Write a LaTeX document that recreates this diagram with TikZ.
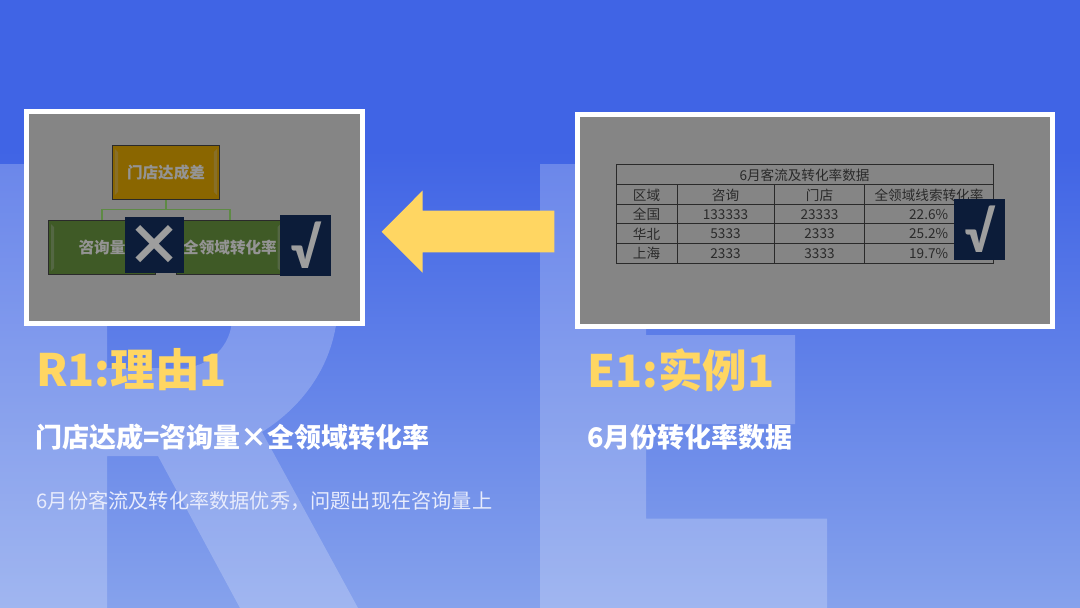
\documentclass[tikz,border=0pt]{standalone}
\usepackage{fontspec}
\setmainfont{Noto Sans CJK SC}
\newfontfamily\markfont{Carlito}
\definecolor{bgtop}{HTML}{4064E5}
\definecolor{bgbot}{HTML}{86A2EC}
\definecolor{panel}{HTML}{858585}
\definecolor{sun}{HTML}{FFD662}
\definecolor{navy}{HTML}{0C1C39}
\definecolor{ink}{HTML}{2A2A2A}
\definecolor{ochre}{HTML}{8A6600}
\definecolor{moss}{HTML}{3F5A26}
\definecolor{trunk}{HTML}{5E8A45}
\tikzset{
  frame/.style={draw=white, line width=5pt, fill=panel, inner sep=0pt, minimum width=#1, minimum height=212pt},
  chart/.style={draw=ink, line width=1pt, inner sep=0pt, minimum height=54.3pt, text=black!42, font=\fontsize{15.6}{15.6}\selectfont\bfseries},
  badge/.style={fill=navy, inner sep=0pt, text=black!38},
  cell/.style={inner sep=0pt, text=ink, font=\fontsize{13.6}{13.6}\selectfont},
  head/.style={anchor=west, inner sep=0pt, text=sun, font=\fontsize{44.6}{44.6}\selectfont\bfseries},
  sub/.style={anchor=west, inner sep=0pt, text=white, font=\fontsize{27}{27}\selectfont\bfseries}
}
\begin{document}
\begin{tikzpicture}[x=1pt, y=-1pt]
    \useasboundingbox (0, 0) rectangle (1080, 608);
    % backdrop and the two big letters
    \fill [bgtop] (0, 0) rectangle (1080, 150);
    \fill [top color=bgtop, bottom color=bgbot] (0, 150) rectangle (1080, 608);
    \fill [white, opacity=0.22, even odd rule] (0, 164) -- (205, 164) .. controls (290, 164) and (338, 225) .. (338, 300) .. controls (338, 360) and (305, 405) .. (262, 432) -- (358, 608) -- (240, 608) -- (158, 456) -- (107, 456) -- (107, 608) -- (0, 608) -- cycle
      (107, 250) -- (180, 250) .. controls (212, 250) and (232, 285) .. (232, 318) .. controls (232, 345) and (210, 368) .. (180, 368) -- (107, 368) -- cycle;
    \fill [white, opacity=0.22] (540, 164) -- (1000, 164) -- (1000, 250) -- (646, 250) -- (646, 335) -- (795, 335) -- (795, 424) -- (646, 424) -- (646, 518.5) -- (827, 518.5) -- (827, 608) -- (540, 608) -- cycle;
    % panels
    \node [frame=336.5pt] (panelr) at (194.25, 217) {};
    \node [frame=475pt] (panele) at (815, 220.5) {};
    % arrow
    \fill [sun] (381.7, 231.7) -- (422.5, 190.7) -- (422.5, 210.7) -- (554.3, 210.7) -- (554.3, 252.3) -- (422.5, 252.3) -- (422.5, 272.7) -- cycle;
    % chart
    \node [chart, fill=ochre, minimum width=107.4pt] (store) at (166, 172.2) {门店达成差};
    \node [chart, fill=moss, minimum width=107.4pt] (volume) at (102, 247.7) {咨询量};
    \node [chart, fill=moss, minimum width=107.4pt] (rate) at (230, 247.7) {全领域转化率};
    \draw [trunk, line width=1.2pt] (store.south) -- ++(0, 10) -| (volume.north);
    \draw [trunk, line width=1.2pt] (store.south) -- ++(0, 10) -| (rate.north);
    \fill [ochre!70!panel] (114.8, 149) -- (118, 152) -- (118, 192) -- (114.8, 195) -- cycle;
    \fill [ochre!70!panel] (217, 149) -- (213.8, 152) -- (213.8, 192) -- (217, 195) -- cycle;
    \fill [moss!70!panel] (51, 224) -- (54, 227) -- (54, 268) -- (51, 271) -- cycle;
    \fill [moss!70!panel] (280.5, 224) -- (277.5, 227) -- (277.5, 268) -- (280.5, 271) -- cycle;
    \node [badge, minimum width=59pt, minimum height=55.4pt, font=\fontsize{56}{56}\selectfont\bfseries] (cross) at (154.8, 245) {×};
    \node [badge, minimum width=51pt, minimum height=60.7pt, font=\markfont\fontsize{58}{58}\selectfont\bfseries] (tickr) at (305.2, 245.4) {√};
    % table
    \draw [ink, line width=0.8pt] (616, 164.7) rectangle (993, 263);
    \draw [ink, line width=0.8pt] (616, 184.3) -- (993, 184.3);
    \draw [ink, line width=0.8pt] (616, 204.3) -- (993, 204.3);
    \draw [ink, line width=0.8pt] (616, 223.7) -- (993, 223.7);
    \draw [ink, line width=0.8pt] (616, 243.7) -- (993, 243.7);
    \draw [ink, line width=0.8pt] (677.3, 184.3) -- (677.3, 263);
    \draw [ink, line width=0.8pt] (774.7, 184.3) -- (774.7, 263);
    \draw [ink, line width=0.8pt] (864.7, 184.3) -- (864.7, 263);
    \node [cell] (caption) at (804.5, 175.3) {6月客流及转化率数据};
    \node [cell] (a1) at (646.5, 195) {区域};
    \node [cell] (b1) at (725.5, 195) {咨询};
    \node [cell] (c1) at (819.5, 195) {门店};
    \node [cell] (d1) at (929, 195) {全领域线索转化率};
    \node [cell] (a2) at (646.5, 214.3) {全国};
    \node [cell] (b2) at (725.5, 214.3) {133333};
    \node [cell] (c2) at (819.5, 214.3) {23333};
    \node [cell, anchor=east] (d2) at (948.3, 214.3) {22.6\%};
    \node [cell] (a3) at (646.5, 234) {华北};
    \node [cell] (b3) at (725.5, 234) {5333};
    \node [cell] (c3) at (819.5, 234) {2333};
    \node [cell, anchor=east] (d3) at (948.3, 234) {25.2\%};
    \node [cell] (a4) at (646.5, 253.6) {上海};
    \node [cell] (b4) at (725.5, 253.6) {2333};
    \node [cell] (c4) at (819.5, 253.6) {3333};
    \node [cell, anchor=east] (d4) at (948.3, 253.6) {19.7\%};
    \node [badge, minimum width=51.3pt, minimum height=60.7pt, font=\markfont\fontsize{58}{58}\selectfont\bfseries] (ticke) at (979.4, 229.6) {√};
    % captions
    \node [head] (titler) at (36, 370) {R1:理由1};
    \node [head] (titlee) at (587, 370) {E1:实例1};
    \node [sub] (subr) at (35, 437) {门店达成=咨询量×全领域转化率};
    \node [sub] (sube) at (587, 437) {6月份转化率数据};
    \node [anchor=west, inner sep=0pt, text=white!88!bgtop, font=\fontsize{20.2}{20.2}\selectfont] (note) at (36.5, 501) {6月份客流及转化率数据优秀\char"FF0C 问题出现在咨询量上};
\end{tikzpicture}
\end{document}
